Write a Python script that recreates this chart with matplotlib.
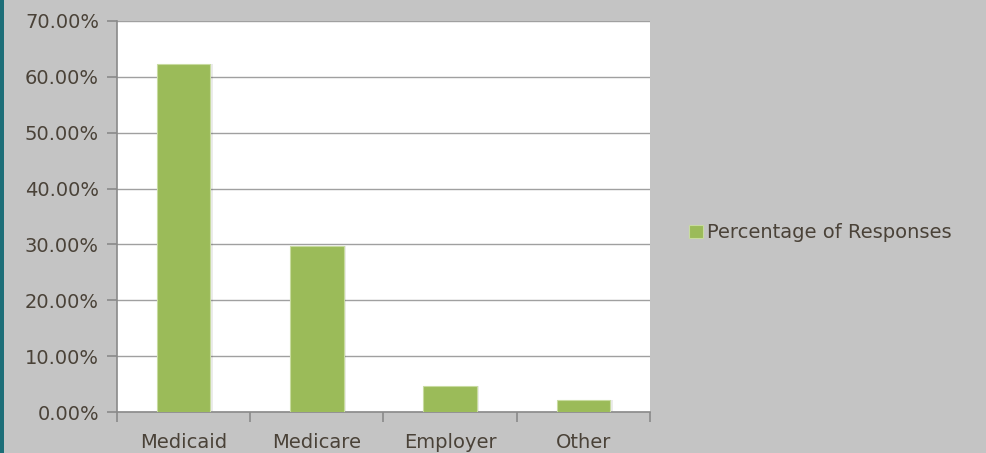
import matplotlib
matplotlib.use("Agg")
import matplotlib.pyplot as plt
from matplotlib.patches import Rectangle
from matplotlib.ticker import FuncFormatter, FixedLocator

categories = ["Medicaid", "Medicare", "Employer", "Other"]
values = [62.3, 29.7, 4.7, 2.1]
series_name = "Percentage of Responses"

bg = "#c4c4c4"
txt = "#4a4238"
bar_color = "#9bbb59"

fig = plt.figure(figsize=(9.87, 4.53), dpi=100, facecolor=bg)
ax = fig.add_axes([117/987, 1-412/453, (650-117)/987, (412-21)/453])
ax.set_facecolor("white")

x = list(range(len(categories)))
bars = ax.bar(x, values, width=0.4, color=bar_color, edgecolor="#c8dba0",
              linewidth=0.8, label=series_name, zorder=3)
# subtle shadow
for xi, v in zip(x, values):
    ax.add_patch(Rectangle((xi - 0.2 + 0.02, 0), 0.4, v, facecolor="#000000",
                           alpha=0.08, zorder=2, linewidth=0))

ax.set_xlim(-0.5, len(categories) - 0.5)
ax.set_ylim(0, 70)
ax.set_yticks(range(0, 71, 10))
ax.yaxis.set_major_formatter(FuncFormatter(lambda v, p: f"{v:.2f}%"))
ax.grid(axis="y", color="#a0a0a0", linewidth=1.0, zorder=1)
ax.set_axisbelow(True)

ax.set_xticks(x)
ax.set_xticklabels(categories)
ax.xaxis.set_minor_locator(FixedLocator([i - 0.5 for i in range(len(categories) + 1)]))
ax.tick_params(axis="x", which="major", length=0, pad=15, labelsize=14, labelcolor=txt)
ax.tick_params(axis="x", which="minor", length=7, width=1.2, color="#8a8a8a", direction="out")
ax.tick_params(axis="y", length=7, width=1.2, color="#8a8a8a", pad=6, labelsize=14, labelcolor=txt)

for s in ["top", "right"]:
    ax.spines[s].set_visible(False)
for s in ["left", "bottom"]:
    ax.spines[s].set_color("#8a8a8a")
    ax.spines[s].set_linewidth(1.2)

for t in ax.get_xticklabels() + ax.get_yticklabels():
    t.set_family("DejaVu Sans")

leg = fig.legend(handles=[bars], labels=[series_name], loc="center left",
                 bbox_to_anchor=(672/987, 1-233/453), frameon=False,
                 fontsize=14, handlelength=0.7, handleheight=0.7,
                 handletextpad=0.2, labelcolor=txt)

# teal left edge strip
fig.patches.append(Rectangle((0, 0), 4/987, 1, transform=fig.transFigure,
                             facecolor="#1d6e78", edgecolor="none"))

fig.savefig("out.png", dpi=100, facecolor=bg)
